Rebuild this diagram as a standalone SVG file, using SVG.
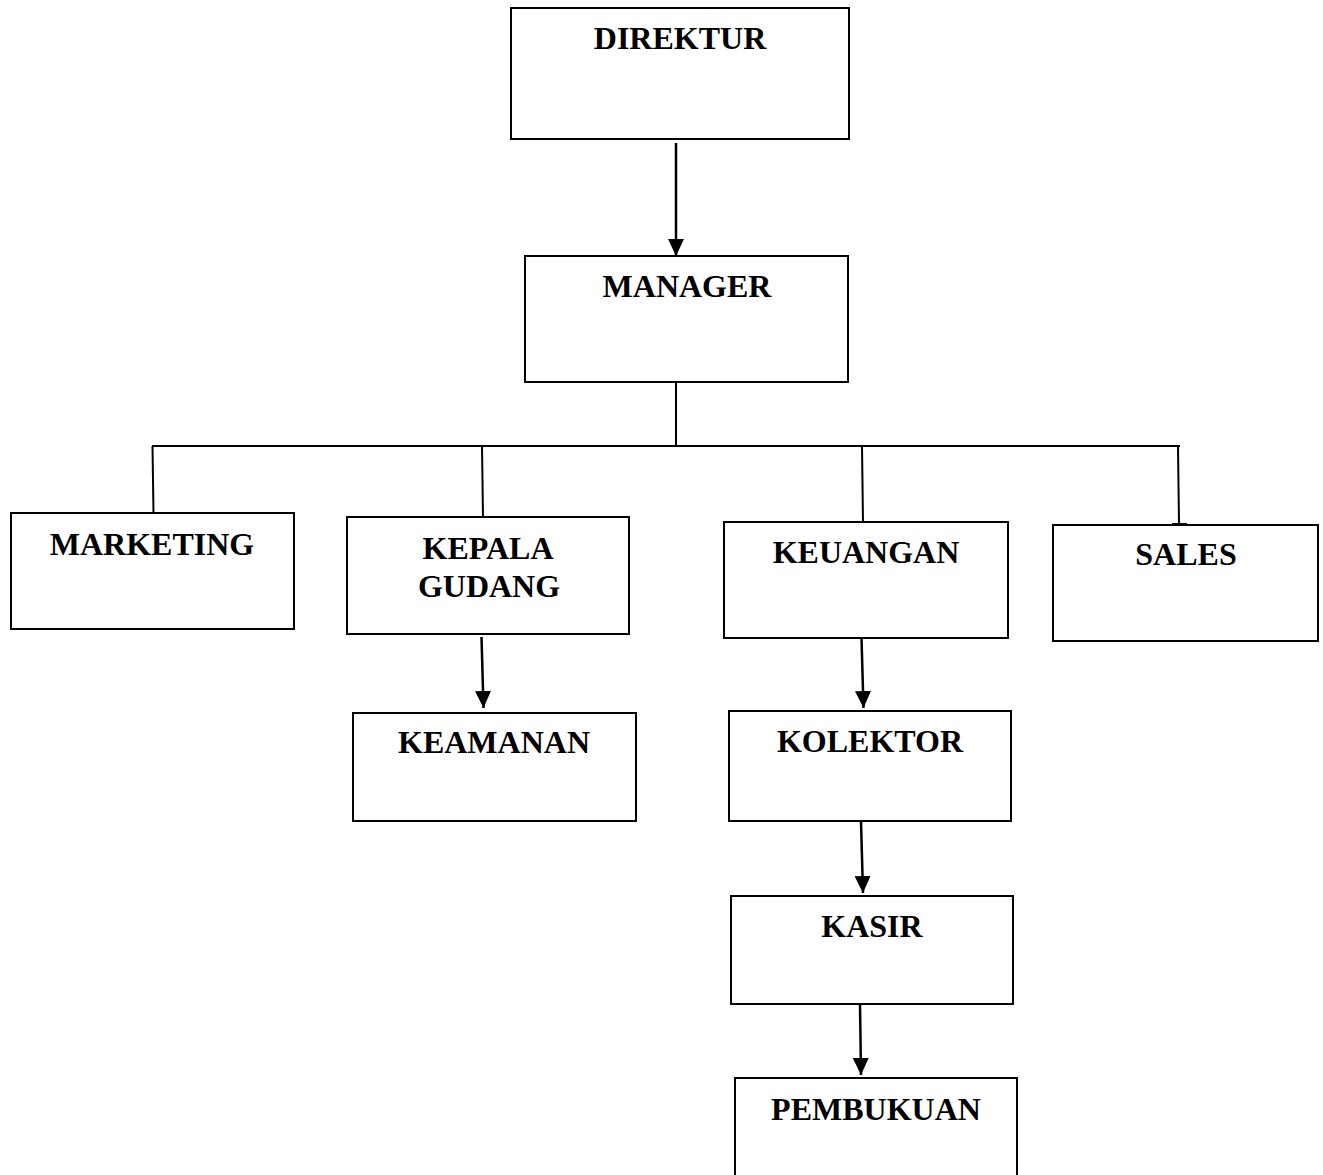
<svg xmlns="http://www.w3.org/2000/svg" width="1323" height="1175" viewBox="0 0 1323 1175">
  <style>
    .box { fill: #ffffff; stroke: #000000; stroke-width: 2; }
    .lbl { font-family: "Liberation Serif", "Times New Roman", serif; font-weight: bold; font-size: 32px; fill: #000000; text-anchor: middle; }
    .conn { stroke: #000000; stroke-width: 2; fill: none; }
    .arr { stroke: #000000; stroke-width: 2.5; fill: none; marker-end: url(#ah); }
  </style>
  <defs>
    <marker id="ah" markerUnits="userSpaceOnUse" markerWidth="18" markerHeight="17" refX="17" refY="8" orient="auto">
      <path d="M0,0 L17,8 L0,16 Z" fill="#000000"/>
    </marker>
  </defs>
  <rect width="1323" height="1175" fill="#ffffff"/>

  <g id="connectors">
    <line class="arr" x1="676" y1="143" x2="676" y2="256"/>
    <line class="conn" x1="676" y1="382" x2="676" y2="446"/>
    <line class="conn" x1="152" y1="446" x2="1180" y2="446"/>
    <line class="conn" x1="152.5" y1="446" x2="153.5" y2="513"/>
    <line class="conn" x1="482" y1="446" x2="483" y2="517"/>
    <line class="conn" x1="862" y1="446" x2="863" y2="522"/>
    <line class="conn" x1="1178" y1="446" x2="1179" y2="524"/>
    <line class="conn" x1="1172" y1="524" x2="1187" y2="524"/>
    <line class="arr" x1="481.5" y1="637" x2="483.5" y2="708"/>
    <line class="arr" x1="861.5" y1="638" x2="863.5" y2="708"/>
    <line class="arr" x1="861" y1="821" x2="863" y2="893"/>
    <line class="arr" x1="860" y1="1004" x2="861" y2="1075"/>
  </g>

  <g id="direktur">
    <rect class="box" x="511" y="8" width="338" height="131"/>
    <text class="lbl" x="680" y="49">DIREKTUR</text>
  </g>
  <g id="manager">
    <rect class="box" x="525" y="256" width="323" height="126"/>
    <text class="lbl" x="687" y="297">MANAGER</text>
  </g>
  <g id="marketing">
    <rect class="box" x="11" y="513" width="283" height="116"/>
    <text class="lbl" x="152" y="555">MARKETING</text>
  </g>
  <g id="kepala-gudang">
    <rect class="box" x="347" y="517" width="282" height="117"/>
    <text class="lbl" x="488" y="559">KEPALA</text>
    <text class="lbl" x="489" y="597">GUDANG</text>
  </g>
  <g id="keuangan">
    <rect class="box" x="724" y="522" width="284" height="116"/>
    <text class="lbl" x="866" y="563">KEUANGAN</text>
  </g>
  <g id="sales">
    <rect class="box" x="1053" y="525" width="265" height="116"/>
    <text class="lbl" x="1186" y="565">SALES</text>
  </g>
  <g id="keamanan">
    <rect class="box" x="353" y="713" width="283" height="108"/>
    <text class="lbl" x="494" y="753">KEAMANAN</text>
  </g>
  <g id="kolektor">
    <rect class="box" x="729" y="711" width="282" height="110"/>
    <text class="lbl" x="870" y="752">KOLEKTOR</text>
  </g>
  <g id="kasir">
    <rect class="box" x="731" y="896" width="282" height="108"/>
    <text class="lbl" x="872" y="937">KASIR</text>
  </g>
  <g id="pembukuan">
    <rect class="box" x="735" y="1078" width="282" height="110"/>
    <text class="lbl" x="876" y="1120">PEMBUKUAN</text>
  </g>
</svg>
